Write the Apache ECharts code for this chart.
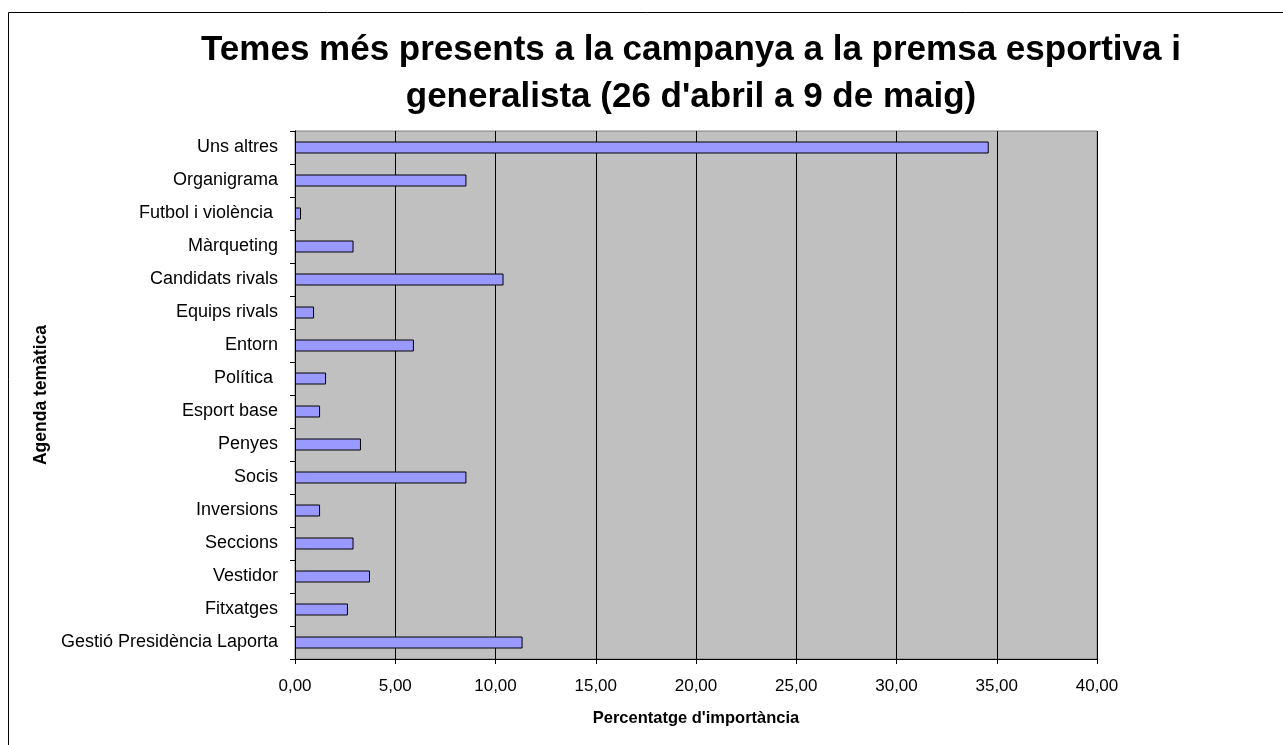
<!DOCTYPE html>
<html>
<head>
<meta charset="utf-8">
<script src="https://cdn.jsdelivr.net/npm/echarts@6/dist/echarts.min.js"></script>
<style>
    html, body { margin: 0; padding: 0; background: #fff; }
    #chart { width: 1283px; height: 745px; }
</style>
</head>
<body>
<div id="chart"></div>
<script>
// categories from top to bottom, as in the picture
const temes = [
    'Uns altres', 'Organigrama', 'Futbol i violència ', 'Màrqueting',
    'Candidats rivals', 'Equips rivals', 'Entorn', 'Política ',
    'Esport base', 'Penyes', 'Socis', 'Inversions',
    'Seccions', 'Vestidor', 'Fitxatges', 'Gestió Presidència Laporta'
];
// percentatge d'importància
const percentatge = [
    34.6, 8.55, 0.3, 2.92,
    10.4, 0.95, 5.93, 1.55,
    1.25, 3.29, 8.55, 1.25,
    2.92, 3.74, 2.64, 11.35
];
const xMin = 0, xMax = 40, xStep = 5;

const font = "'Liberation Sans', Arial, sans-serif";
const chart = echarts.init(document.getElementById('chart'));

const option = {
    animation: false,
    backgroundColor: '#fff',
    textStyle: { fontFamily: font },
    title: {
        text: "Temes més presents a la campanya a la premsa esportiva i\ngeneralista (26 d'abril a 9 de maig)",
        left: 691,
        top: 27,
        padding: 0,
        textAlign: 'center',
        textStyle: { fontFamily: font, fontSize: 35, fontWeight: 'bold', color: '#000', lineHeight: 47 }
    },
    // marc exterior (retallat a dreta i a baix)
    graphic: [{
        type: 'rect',
        shape: { x: 8.5, y: 12.5, width: 2000, height: 2000 },
        style: { fill: 'none', stroke: '#000', lineWidth: 1 },
        silent: true
    }],
    grid: {
        left: 295,
        right: 186,
        top: 131,
        bottom: 86,
        show: true,
        backgroundColor: '#c0c0c0',
        borderColor: '#808080',
        borderWidth: 1
    },
    xAxis: {
        type: 'value',
        min: xMin,
        max: xMax,
        interval: xStep,
        name: "Percentatge d'importància",
        nameLocation: 'middle',
        nameGap: 51,
        nameTextStyle: { fontFamily: font, fontSize: 16.5, fontWeight: 'bold', color: '#000' },
        axisLine: { show: true, lineStyle: { color: '#000', width: 1 } },
        axisTick: { show: true, length: 5, lineStyle: { color: '#000' } },
        axisLabel: {
            margin: 19,
            fontFamily: font,
            fontSize: 17,
            color: '#000',
            formatter: v => v.toFixed(2).replace('.', ',')
        },
        splitLine: { show: true, lineStyle: { color: '#000', width: 1 } }
    },
    yAxis: {
        type: 'category',
        data: temes,
        inverse: true,
        name: 'Agenda temàtica',
        nameLocation: 'middle',
        nameGap: 244,
        nameTextStyle: { fontFamily: font, fontSize: 17.5, fontWeight: 'bold', color: '#000' },
        axisLine: { show: true, lineStyle: { color: '#000', width: 1 } },
        axisTick: { show: true, length: 5, lineStyle: { color: '#000' } },
        axisLabel: { margin: 17, fontFamily: font, fontSize: 18, color: '#000' },
        splitLine: { show: false }
    },
    series: [{
        type: 'bar',
        data: percentatge,
        barWidth: 12,
        itemStyle: { color: '#9999ff', borderColor: '#000', borderWidth: 1 }
    }]
};

chart.setOption(option);
</script>
</body>
</html>
